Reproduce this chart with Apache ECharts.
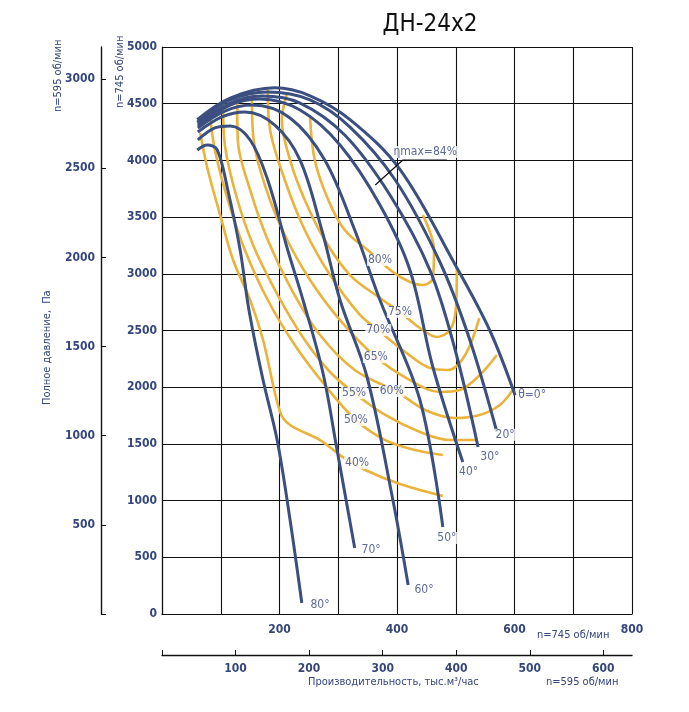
<!DOCTYPE html>
<html><head><meta charset="utf-8">
<script src="https://cdn.jsdelivr.net/npm/echarts@6/dist/echarts.min.js"></script>
<style>html,body{margin:0;padding:0;background:#fff}#c{width:689px;height:712px}</style>
</head><body><div id="c"></div>
<script>
const angleNames = ['θ=0°','20°','30°','40°','50°','60°','70°','80°'];
const blue0 = [[60,4360],[116,4550],[192,4640],[252,4570],[320,4360],[405,3920],[499,3080],[558,2500],[601,1930]];
const blue20 = [[60,4338],[116,4533],[180,4603],[252,4533],[320,4294],[397,3827],[473,3104],[524,2416],[570,1605]];
const blue30 = [[61,4321],[116,4506],[170,4568],[235,4506],[311,4224],[388,3695],[456,3033],[499,2328],[538,1473]];
const blue40 = [[61,4303],[116,4488],[167,4541],[235,4444],[303,4136],[371,3607],[422,3033],[461,2178],[512,1340]];
const blue50 = [[61,4286],[107,4435],[153,4488],[218,4374],[277,4003],[328,3386],[371,2769],[439,1887],[478,767]];
const blue60 = [[61,4250],[102,4383],[141,4427],[192,4312],[235,4003],[272,3386],[303,2769],[349,2090],[393,1005],[419,256]];
const blue70 = [[61,4180],[90,4286],[116,4303],[150,4180],[180,3827],[214,3210],[240,2769],[274,2125],[298,1446],[328,582]];
const blue80 = [[60,4092],[77,4136],[94,4092],[112,3739],[133,3210],[148,2681],[172,2063],[196,1534],[218,829],[238,97]];
const angleLabelPos = [[630,1935],[584,1580],[558,1384],[522,1252],[485,670],[446,212],[356,564],[269,79]];

const effNames = ['80%','75%','70%','65%','60%','55%','50%','40%'];
const eff80 = [[252,4383],[260,4003],[283,3651],[311,3386],[354,3192],[393,3016],[422,2928],[444,2901],[461,2963],[463,3210],[444,3518]];
const eff75 = [[213,4594],[204,4356],[218,4003],[243,3651],[277,3298],[320,2989],[371,2786],[405,2663],[439,2522],[468,2443],[490,2504],[500,2681],[502,3051]];
const eff70 = [[180,4621],[184,4268],[209,3827],[243,3386],[286,2989],[337,2637],[368,2504],[414,2310],[456,2169],[487,2152],[516,2284],[540,2610]];
const eff65 = [[153,4577],[155,4224],[175,3783],[209,3342],[252,2945],[303,2592],[364,2266],[422,2063],[473,1958],[507,1975],[541,2108],[570,2284]];
const eff60 = [[128,4533],[129,4180],[150,3739],[180,3298],[221,2857],[269,2460],[328,2152],[400,1958],[448,1799],[499,1728],[541,1755],[575,1843],[597,1975]];
const eff55 = [[104,4471],[107,4136],[126,3695],[155,3254],[197,2813],[243,2416],[286,2134],[327,1949],[380,1755],[439,1605],[490,1534],[536,1534]];
const eff50 = [[82,4383],[90,4092],[112,3651],[141,3210],[180,2769],[226,2372],[277,2019],[330,1711],[380,1534],[431,1446],[478,1402]];
const eff40 = [[65,4241],[78,3915],[99,3518],[121,3122],[150,2769],[172,2416],[201,1781],[218,1667],[269,1534],[308,1384],[346,1270],[405,1146],[478,1041]];
const effLabelPos = [[371,3122],[405,2663],[368,2504],[364,2266],[391,1966],[327,1949],[330,1711],[332,1331]];

const etaLabel = 'ηmax=84%';
const etaLeader = [[363,3783],[410,4003],[485,4003]];
const etaLabelPos = [[448,4075]];

const BLUE = '#3b4f80', ORANGE = '#e9b33c', TXT = '#34467a';
const FONT = '"Liberation Sans Narrow","DejaVu Sans Condensed","Roboto",sans-serif';

const blues = [blue0,blue20,blue30,blue40,blue50,blue60,blue70,blue80];
const effs = [eff80,eff75,eff70,eff65,eff60,eff55,eff50,eff40];

const series = [];
effs.forEach(d=>series.push({type:'line',data:d,smooth:0.35,symbol:'none',lineStyle:{color:ORANGE,width:2.6},z:2,silent:true}));
blues.forEach(d=>series.push({type:'line',data:d,smooth:0.35,symbol:'none',lineStyle:{color:BLUE,width:3},z:3,silent:true}));
series.push({type:'line',data:etaLeader,symbol:'none',lineStyle:{color:'#111',width:1.2},z:4});
const lbl = {show:true,position:'inside',formatter:p=>p.name,color:TXT,fontFamily:FONT,fontSize:12,backgroundColor:'#fff',padding:[0,1]};
series.push({type:'scatter',symbolSize:0,z:6,data:effLabelPos.map((p,i)=>({value:p,name:effNames[i]})),label:lbl});
series.push({type:'scatter',symbolSize:0,z:6,data:angleLabelPos.map((p,i)=>({value:p,name:angleNames[i]})),label:lbl});
series.push({type:'scatter',symbolSize:0,z:6,data:etaLabelPos.map(p=>({value:p,name:etaLabel})),label:lbl});
series.push({type:'line',data:[],xAxisIndex:1,yAxisIndex:1});

const axLbl = {color:TXT,fontSize:12,fontWeight:'bold'};
const chart = echarts.init(document.getElementById('c'));
chart.setOption({
  animation:false,
  textStyle:{fontFamily:FONT},
  title:{text:'ДН-24х2',left:425,top:8,textAlign:'center',textStyle:{fontSize:24,fontWeight:'normal',color:'#111',fontFamily:FONT}},
  grid:{left:162,right:57,top:47,bottom:98,containLabel:false,outerBoundsMode:'none'},
  xAxis:[
    {type:'value',min:0,max:800,interval:100,position:'bottom',
     axisLine:{onZero:false,lineStyle:{color:'#111',width:1.2}},axisTick:{show:false},
     splitLine:{lineStyle:{color:'#111',width:1.1}},
     axisLabel:{...axLbl,margin:10,formatter:v=>(v%200===0&&v>0)?String(v):''}},
    {type:'value',min:0,max:639,interval:100,position:'bottom',offset:41,
     axisLine:{show:true,onZero:false,lineStyle:{color:'#111',width:1.4}},axisTick:{show:true,inside:true,length:5,lineStyle:{color:'#111'}},splitLine:{show:false},
     axisLabel:{...axLbl,margin:8,showMaxLabel:false,formatter:v=>v>0?String(v):''}}
  ],
  yAxis:[
    {type:'value',min:0,max:5000,interval:500,position:'left',
     axisLine:{show:true,onZero:false,lineStyle:{color:'#111',width:1.2}},axisTick:{show:false},
     splitLine:{lineStyle:{color:'#111',width:1.1}},
     axisLabel:{...axLbl,margin:5,formatter:v=>String(v)}},
    {type:'value',min:0,max:3180,interval:500,position:'left',offset:61,
     axisLine:{show:true,onZero:false,lineStyle:{color:'#111',width:1.4}},axisTick:{show:true,inside:true,length:5,lineStyle:{color:'#111'}},splitLine:{show:false},
     axisLabel:{...axLbl,showMaxLabel:false,margin:6,formatter:v=>v>0?String(v):''}}
  ],
  graphic:[
    {type:'text',x:115,y:108,rotation:Math.PI/2,style:{text:'n=745 об/мин',fill:TXT,font:'11px '+FONT}},
    {type:'text',x:53,y:112,rotation:Math.PI/2,style:{text:'n=595 об/мин',fill:TXT,font:'11px '+FONT}},
    {type:'text',x:42,y:405,rotation:Math.PI/2,style:{text:'Полное давление,  Па',fill:TXT,font:'11px '+FONT}},
    {type:'text',x:537,y:630,style:{text:'n=745 об/мин',fill:TXT,font:'11px '+FONT}},
    {type:'text',x:546,y:677,style:{text:'n=595 об/мин',fill:TXT,font:'11px '+FONT}},
    {type:'text',x:308,y:677,style:{text:'Производительность, тыс.м³/час',fill:TXT,font:'11px '+FONT}}
  ],
  series
});
</script></body></html>
